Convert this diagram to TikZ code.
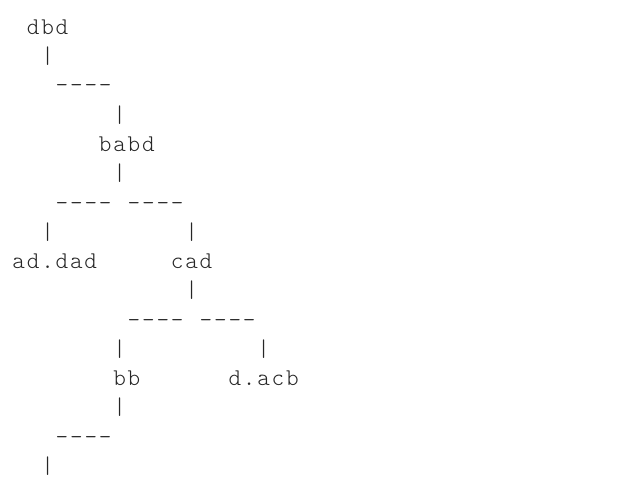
\documentclass[tikz,border=0pt]{standalone}
\usepackage{fontspec}
\newfontfamily\asciifont{lmmonolt10-regular.otf}[LetterSpace=7.5]
\tikzset{
  ascii/.style={anchor=base west, inner sep=0pt, outer sep=0pt,
    font=\asciifont\fontsize{24pt}{29pt}\selectfont, text=black!85}
}
\newcommand{\tok}[4]{\node[ascii] (#1) at ({12.5pt+#2*14.4pt},{-34.5pt-#3*29.25pt}) {#4};}
\begin{document}
\begin{tikzpicture}[x=1pt,y=1pt]
\useasboundingbox (0,0) rectangle (629,-484);
\tok{dbd}{1}{0}{dbd}
\tok{v1}{2}{1}{|}
\tok{h1}{3}{2}{----}
\tok{v2}{7}{3}{|}
\tok{babd}{6}{4}{babd}
\tok{v3}{7}{5}{|}
\tok{h2}{3}{6}{----}
\tok{h3}{8}{6}{----}
\tok{v4}{2}{7}{|}
\tok{v5}{12}{7}{|}
\tok{addad}{0}{8}{ad.dad}
\tok{cad}{11}{8}{cad}
\tok{v6}{12}{9}{|}
\tok{h4}{8}{10}{----}
\tok{h5}{13}{10}{----}
\tok{v7}{7}{11}{|}
\tok{v8}{17}{11}{|}
\tok{bb}{7}{12}{bb}
\tok{dacb}{15}{12}{d.acb}
\tok{v9}{7}{13}{|}
\tok{h6}{3}{14}{----}
\tok{v10}{2}{15}{|}
\end{tikzpicture}
\end{document}
